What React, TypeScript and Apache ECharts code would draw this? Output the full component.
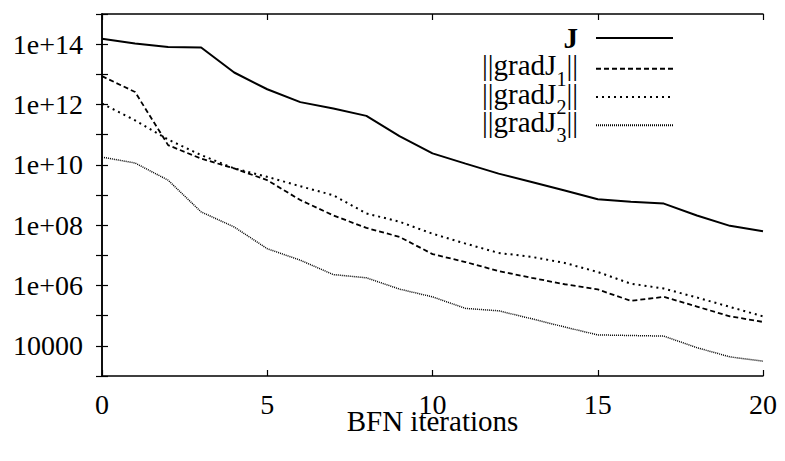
import React, { useEffect, useRef } from 'react';
import * as echarts from 'echarts';

const FONT = 'Liberation Serif';

const iterations = [0, 1, 2, 3, 4, 5, 6, 7, 8, 9, 10, 11, 12, 13, 14, 15, 16, 17, 18, 19, 20];
const seriesNames = ['J', '||gradJ1||', '||gradJ2||', '||gradJ3||'];

const valuesJ = [1.5e14, 1.05e14, 8.1e13, 7.8e13, 1.15e13, 3.2e12, 1.2e12, 7.4e11, 4.2e11, 9e10, 2.4e10,
  1.1e10, 5.1e9, 2.7e9, 1.4e9, 7.2e8, 6e8, 5.2e8, 2.1e8, 9.5e7, 6.3e7];
const valuesGrad1 = [8.7e12, 2.6e12, 4.5e10, 1.6e10, 7.6e9, 3.1e9, 6.8e8, 2.1e8, 8.1e7, 4.1e7, 1.1e7,
  6e6, 3e6, 1.8e6, 1.1e6, 7.4e5, 3.1e5, 4.2e5, 2e5, 9.5e4, 6.2e4];
const valuesGrad2 = [1.07e12, 3e11, 6.9e10, 2.1e10, 7.6e9, 4e9, 1.95e9, 9.8e8, 2.45e8, 1.3e8, 5.2e7,
  2.45e7, 1.2e7, 8.9e6, 5.6e6, 2.8e6, 1.15e6, 7.9e5, 4e5, 1.95e5, 9.5e4];
const valuesGrad3 = [1.8e10, 1.15e10, 3.1e9, 2.75e8, 8.7e7, 1.66e7, 6.9e6, 2.3e6, 1.8e6, 7.6e5, 4.2e5,
  1.74e5, 1.45e5, 7.9e4, 4.2e4, 2.3e4, 2.2e4, 2.1e4, 8.7e3, 4.3e3, 3.1e3];

const xTicks = [0, 5, 10, 15, 20];
const yTickLabels = ['10000', '1e+06', '1e+08', '1e+10', '1e+12', '1e+14'];

// legend row tops (layout)
const legendRowTops = [23.6, 48.7, 77, 105.3];

function yLabel(v: number): string {
  const e = Math.round(Math.log10(v));
  const lbl = e <= 4 ? String(Math.round(Math.pow(10, e))) : '1e+' + (e < 10 ? '0' + e : String(e));
  return yTickLabels.includes(lbl) ? lbl : '';
}

export default function App() {
  const ref = useRef<HTMLDivElement>(null);
  useEffect(() => {
    const chart = echarts.init(ref.current!, null, { renderer: 'svg' });
    const all = [valuesJ, valuesGrad1, valuesGrad2, valuesGrad3];
    const styles = [
      { type: 'solid', width: 2 },
      { type: [5, 3], width: 1.8 },
      { type: [2, 4], width: 2 },
      { type: [1, 1], width: 1.5 },
    ];
    const axisLine = { show: true, lineStyle: { color: '#000', width: 1.5 } };
    const tick = { show: true, inside: true, length: 6, lineStyle: { color: '#000', width: 1.2 } };
    const legends = seriesNames.map((name, i) => ({
      orient: 'vertical',
      right: 111,
      top: legendRowTops[i],
      align: 'right',
      itemWidth: 77,
      itemHeight: 14,
      padding: 0,
      data: [name],
      itemStyle: { color: 'transparent', borderWidth: 0, opacity: 0 },
      formatter: (n: string) => {
        if (n === 'J') return '{b|J}';
        return n.replace(/^\|\|gradJ(\d)\|\|$/, '{n|||gradJ}{s|$1}{n|||}');
      },
      textStyle: {
        color: '#000',
        fontFamily: FONT,
        fontSize: 29,
        padding: [0, 13, 0, 0],
        rich: {
          b: { fontFamily: FONT, fontSize: 29, fontWeight: 'bold', lineHeight: 40 },
          n: { fontFamily: FONT, fontSize: 29, lineHeight: 40, height: 33, verticalAlign: 'top' },
          s: { fontFamily: FONT, fontSize: 20, lineHeight: 40, height: 20, verticalAlign: 'bottom' },
        },
      },
    }));
    chart.setOption({
      animation: false,
      backgroundColor: '#fff',
      grid: { left: 102, right: 22, top: 14, bottom: 85 },
      legend: legends,
      xAxis: [
        {
          type: 'value',
          min: 0,
          max: 20,
          interval: 5,
          name: 'BFN iterations',
          nameLocation: 'middle',
          nameGap: 36,
          nameMoveOverlap: false,
          nameTextStyle: { fontFamily: FONT, fontSize: 29, color: '#000', lineHeight: 18 },
          axisLine,
          axisTick: tick,
          axisLabel: {
            fontFamily: FONT, fontSize: 28, color: '#000', margin: 14,
            formatter: (v: number) => (xTicks.includes(v) ? String(v) : ''),
          },
          splitLine: { show: false },
        },
        {
          type: 'value',
          position: 'top',
          min: 0,
          max: 20,
          interval: 5,
          axisLine,
          axisTick: tick,
          axisLabel: { show: false },
          splitLine: { show: false },
        },
      ],
      yAxis: [
        {
          type: 'log',
          logBase: 10,
          min: 1e3,
          max: 1e15,
          interval: 1,
          axisLine,
          axisTick: tick,
          axisLabel: { fontFamily: FONT, fontSize: 28, color: '#000', margin: 19, formatter: yLabel },
          splitLine: { show: false },
        },
        {
          type: 'log',
          logBase: 10,
          min: 1e3,
          max: 1e15,
          interval: 1,
          position: 'right',
          axisLine,
          axisTick: tick,
          axisLabel: { show: false },
          splitLine: { show: false },
        },
      ],
      series: seriesNames.map((name, i) => ({
        name,
        type: 'line',
        xAxisIndex: 0,
        yAxisIndex: 0,
        symbol: 'none',
        showSymbol: false,
        color: '#000',
        lineStyle: { color: '#000', ...styles[i] },
        data: iterations.map((x, k) => [x, all[i][k]]),
      })),
    });
    return () => chart.dispose();
  }, []);
  return <div ref={ref} style={{ position: 'fixed', left: 0, top: 0, width: 785, height: 461 }} />;
}
